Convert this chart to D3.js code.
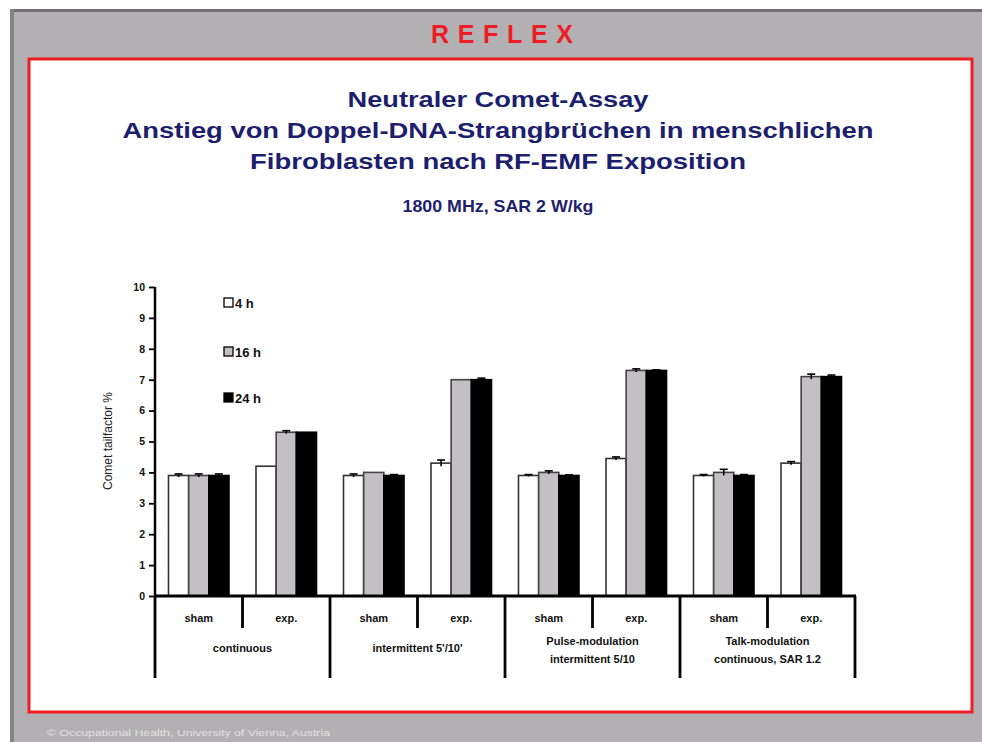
<!DOCTYPE html>
<html>
<head>
<meta charset="utf-8">
<script src="https://cdn.jsdelivr.net/npm/d3@7"></script>
<style>
  body { margin: 0; background: #fff; }
  text { font-family: "Liberation Sans", Arial, sans-serif; }
</style>
</head>
<body>
<script>
// Chart data
var groups = ["continuous", "intermittent 5'/10'", "Pulse-modulation|intermittent 5/10", "Talk-modulation|continuous, SAR 1.2"];
var conditions = ["sham", "exp."];
var series = ["4 h", "16 h", "24 h"];
var values4h  = [3.9, 4.2, 3.9, 4.3, 3.9, 4.45, 3.9, 4.3];
var values16h = [3.9, 5.3, 4.0, 7.0, 4.0, 7.3, 4.0, 7.1];
var values24h = [3.9, 5.3, 3.9, 7.0, 3.9, 7.3, 3.9, 7.1];
var err4h  = [0.05, 0.0, 0.05, 0.1, 0.03, 0.05, 0.03, 0.05];
var err16h = [0.05, 0.05, 0.0, 0.0, 0.05, 0.05, 0.1, 0.08];
var err24h = [0.05, 0.0, 0.03, 0.05, 0.02, 0.02, 0.03, 0.05];
var yTicks = [0, 1, 2, 3, 4, 5, 6, 7, 8, 9, 10];

var svgWidth = 982;
var svgHeight = 742;

var svg = d3.select("body")
  .append("svg")
  .attr("width", svgWidth)
  .attr("height", svgHeight);

// slide frame
svg.append("rect").attr("width", svgWidth).attr("height", svgHeight).attr("fill", "#fff");
svg.append("rect").attr("x", 10).attr("y", 9).attr("width", 972).attr("height", 733).attr("fill", "#b2b0b2");
svg.append("rect").attr("x", 10).attr("y", 9).attr("width", 972).attr("height", 3).attr("fill", "#727072");
svg.append("rect").attr("x", 10).attr("y", 9).attr("width", 4).attr("height", 733).attr("fill", "#858385");
svg.append("rect").attr("x", 29).attr("y", 59).attr("width", 943).attr("height", 653)
  .attr("fill", "#fff").attr("stroke", "#f01c24").attr("stroke-width", 3);

svg.append("text")
  .attr("x", 502).attr("y", 43)
  .attr("text-anchor", "middle")
  .attr("fill", "#ee1c25")
  .attr("font-size", 25).attr("font-weight", "bold")
  .attr("textLength", 142).attr("lengthAdjust", "spacing")
  .text("REFLEX");

svg.append("text")
  .attr("x", 47).attr("y", 736)
  .attr("fill", "#e4e2e4")
  .attr("font-size", 9.5)
  .attr("textLength", 283).attr("lengthAdjust", "spacingAndGlyphs")
  .text("© Occupational Health, University of Vienna, Austria");

// titles
var titleLines = [
  { t: "Neutraler Comet-Assay", y: 107, w: 301, s: 22 },
  { t: "Anstieg von Doppel-DNA-Strangbrüchen in menschlichen", y: 138, w: 751, s: 22 },
  { t: "Fibroblasten nach RF-EMF Exposition", y: 169, w: 496, s: 22 },
  { t: "1800 MHz, SAR 2 W/kg", y: 212, w: 191, s: 17 }
];
svg.selectAll(".title")
  .data(titleLines)
  .enter().append("text")
  .attr("class", "title")
  .attr("x", 498).attr("y", d => d.y)
  .attr("text-anchor", "middle")
  .attr("fill", "#1e1e6e")
  .attr("font-weight", "bold")
  .attr("font-size", d => d.s)
  .attr("textLength", d => d.w).attr("lengthAdjust", "spacingAndGlyphs")
  .text(d => d.t);

// chart area
var chartLeft = 155, chartRight = 855, chartTop = 287, chartBottom = 596;

var bands = d3.range(groups.length * conditions.length);
var x0 = d3.scaleBand().domain(bands).range([chartLeft, chartRight]).padding(0);
var x1 = d3.scaleBand().domain(series).range([13.5, x0.bandwidth() - 13.5]).padding(0);
var y = d3.scaleLinear().domain([0, 10]).range([chartBottom, chartTop]);

var fills = ["#ffffff", "#c2c0c2", "#000000"];
var strokes = ["#333", "#444", "#000"];
var allValues = [values4h, values16h, values24h];
var allErr = [err4h, err16h, err24h];

var barData = [];
bands.forEach(function(b) {
  series.forEach(function(s, i) {
    barData.push({ band: b, s: s, i: i, v: allValues[i][b], e: allErr[i][b] });
  });
});

var chart = svg.append("g");

chart.selectAll(".bar")
  .data(barData)
  .enter().append("rect")
  .attr("class", "bar")
  .attr("x", d => x0(d.band) + x1(d.s))
  .attr("y", d => y(d.v))
  .attr("width", x1.bandwidth())
  .attr("height", d => y(0) - y(d.v))
  .attr("fill", d => fills[d.i])
  .attr("stroke", d => strokes[d.i])
  .attr("stroke-width", 1.6);

// error bars
var errG = chart.selectAll(".err")
  .data(barData.filter(d => d.e > 0))
  .enter().append("g")
  .attr("stroke", "#000").attr("stroke-width", 1.6);
errG.append("line")
  .attr("x1", d => x0(d.band) + x1(d.s) + x1.bandwidth() / 2)
  .attr("x2", d => x0(d.band) + x1(d.s) + x1.bandwidth() / 2)
  .attr("y1", d => y(d.v + d.e)).attr("y2", d => y(d.v - d.e));
errG.append("line")
  .attr("x1", d => x0(d.band) + x1(d.s) + x1.bandwidth() / 2 - 4)
  .attr("x2", d => x0(d.band) + x1(d.s) + x1.bandwidth() / 2 + 4)
  .attr("y1", d => y(d.v + d.e)).attr("y2", d => y(d.v + d.e));

// y axis
var leftAxis = d3.axisLeft(y).tickValues(yTicks).tickSize(6).tickPadding(4);
var yAxisG = chart.append("g")
  .attr("transform", `translate(${chartLeft}, 0)`)
  .call(leftAxis);
yAxisG.select(".domain").attr("stroke-width", 2.5).attr("d", `M0,${chartTop}V${chartBottom}`);
yAxisG.selectAll(".tick line").attr("stroke-width", 1.8);
yAxisG.selectAll(".tick text")
  .attr("font-size", 10.5).attr("font-weight", "bold")
  .attr("font-family", "Liberation Sans, Arial, sans-serif")
  .attr("fill", "#111");

svg.append("text")
  .attr("transform", "translate(112, 441) rotate(-90)")
  .attr("text-anchor", "middle")
  .attr("font-size", 12)
  .attr("fill", "#222")
  .text("Comet tailfactor %");

// bottom axis line and category dividers
chart.append("line")
  .attr("x1", chartLeft - 1).attr("x2", chartRight + 1)
  .attr("y1", chartBottom).attr("y2", chartBottom)
  .attr("stroke", "#000").attr("stroke-width", 3);

var dividers = d3.range(bands.length + 1);
chart.selectAll(".divider")
  .data(dividers)
  .enter().append("line")
  .attr("x1", d => d === bands.length ? chartRight : x0(d))
  .attr("x2", d => d === bands.length ? chartRight : x0(d))
  .attr("y1", chartBottom)
  .attr("y2", d => d % 2 === 0 ? 678 : 628)
  .attr("stroke", "#000").attr("stroke-width", 2.8);

chart.selectAll(".cond")
  .data(bands)
  .enter().append("text")
  .attr("x", d => x0(d) + x0.bandwidth() / 2)
  .attr("y", 622)
  .attr("text-anchor", "middle")
  .attr("font-size", 11).attr("font-weight", "bold")
  .attr("fill", "#111")
  .text(d => conditions[d % 2]);

var groupText = chart.selectAll(".grp")
  .data(groups)
  .enter().append("text")
  .attr("text-anchor", "middle")
  .attr("font-size", 11).attr("font-weight", "bold")
  .attr("fill", "#111");
groupText.each(function(g, i) {
  var lines = g.split("|");
  var cx = x0(i * 2 + 1);
  var startY = lines.length === 1 ? 652 : 645;
  lines.forEach(function(l, k) {
    d3.select(this).append("tspan")
      .attr("x", cx).attr("y", startY + k * 18)
      .text(l);
  }, this);
});

// legend
var legend = chart.selectAll(".legend")
  .data(series)
  .enter().append("g")
  .attr("transform", (d, i) => `translate(224, ${[298, 347, 393][i]})`);
legend.append("rect")
  .attr("width", 9).attr("height", 9)
  .attr("fill", (d, i) => fills[i])
  .attr("stroke", "#000").attr("stroke-width", 1.3);
legend.append("text")
  .attr("x", 11).attr("y", 9.5)
  .attr("font-size", 13).attr("font-weight", "bold")
  .attr("fill", "#111")
  .text(d => d);
</script>
</body>
</html>
